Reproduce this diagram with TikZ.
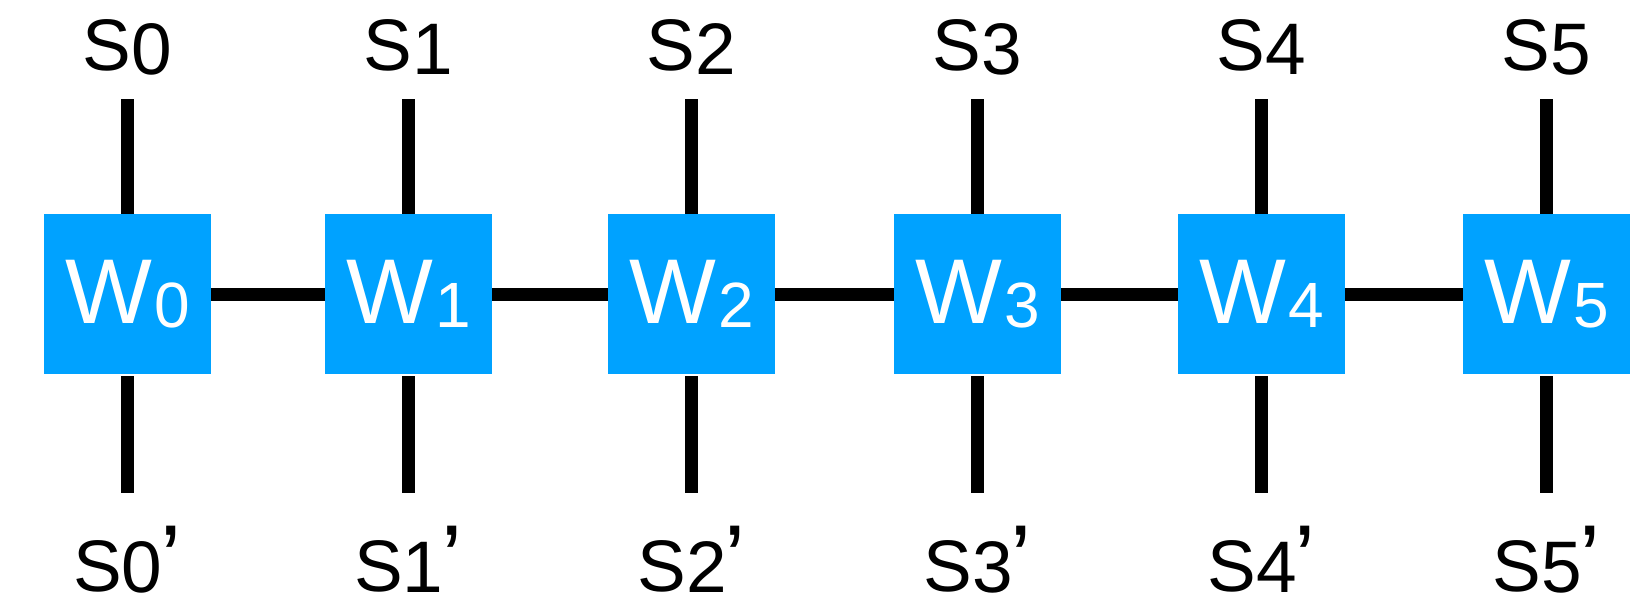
\documentclass[tikz,border=0pt]{standalone}
\usepackage{fontspec}
\setmainfont{Liberation Sans}
\definecolor{wblue}{RGB}{0,162,255}
\tikzset{
  wbox/.style={fill=wblue, minimum width=167pt, minimum height=160pt, inner sep=0pt,
    text=white, font=\fontsize{92}{92}\selectfont},
  conn/.style={line width=13pt, black},
  slabel/.style={anchor=base, inner sep=0pt, font=\fontsize{73}{73}\selectfont},
}
\newcommand\wlab[1]{W\kern2pt\raisebox{-4pt}{\fontsize{64}{64}\selectfont #1}}
\newcommand\slab[1]{S\raisebox{-4pt}{#1}}
\newcommand\sprm[1]{S\raisebox{-1pt}{#1}\kern-2pt{\fontsize{95}{95}\selectfont ’}}
\begin{document}
\begin{tikzpicture}[x=1pt,y=-1pt]
\useasboundingbox (0,0) rectangle (1640,600);
\foreach \i/\cx in {0/127.5,1/408.5,2/691.5,3/977.5,4/1261.5,5/1546.5}{
  \node[wbox] (w\i) at (\cx,294) {\wlab{\i}};
  \node[slabel] (s\i) at (\cx,70) {\slab{\i}};
  \node[slabel] (p\i) at (\cx,591) {\sprm{\i}};
  \coordinate (t\i) at (\cx,99);
  \coordinate (b\i) at (\cx,493);
  \draw[conn] (t\i) -- (w\i.north);
  \draw[conn] ([yshift=-2pt]w\i.south) -- (b\i);
}
\draw[conn] (w0) -- (w1);
\draw[conn] (w1) -- (w2);
\draw[conn] (w2) -- (w3);
\draw[conn] (w3) -- (w4);
\draw[conn] (w4) -- (w5);
\end{tikzpicture}
\end{document}
